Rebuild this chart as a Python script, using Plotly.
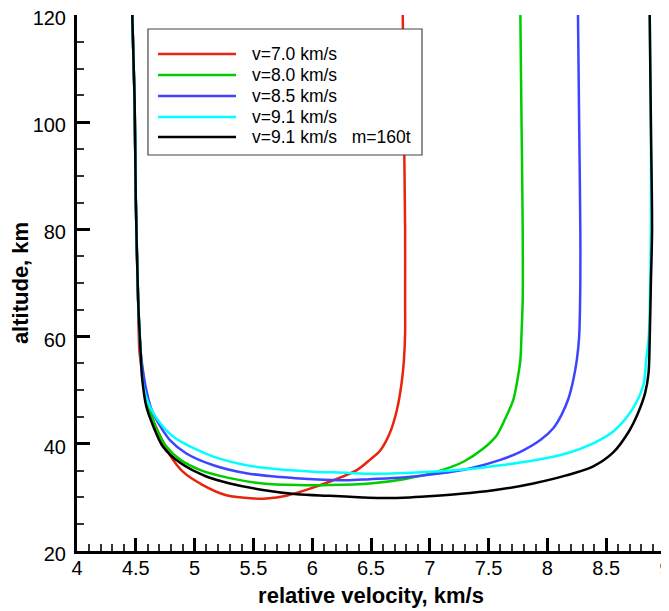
import plotly.graph_objects as go

# trajectories: relative velocity (km/s) vs altitude (km)
v_70 = [6.77, 6.78, 6.79, 6.79, 6.79, 6.78, 6.76, 6.72, 6.66, 6.58, 6.49, 6.38, 6.18,
        5.95, 5.78, 5.61, 5.50, 5.27, 5.07, 4.90, 4.79, 4.71, 4.635, 4.58, 4.55,
        4.53, 4.52, 4.50, 4.49, 4.47]
h_70 = [120, 100, 80, 66.8, 60.6, 55.6, 51.3, 46.3, 42.0, 38.8, 37.0, 35.1, 33.2,
        31.4, 30.3, 29.8, 29.8, 30.4, 32.3, 34.8, 37.9, 41.3, 45.1, 49.5, 53.8,
        57.5, 66.8, 85.5, 104, 120]

v_80 = [7.77, 7.78, 7.79, 7.79, 7.78, 7.77, 7.74, 7.71, 7.65, 7.57, 7.46, 7.29, 7.06,
        6.78, 6.49, 6.15, 5.87, 5.58, 5.30, 5.05, 4.88, 4.76, 4.68, 4.62, 4.58,
        4.555, 4.54, 4.52, 4.50, 4.49, 4.47]
h_80 = [120, 100, 80, 66.8, 60.6, 55.6, 51.3, 48.2, 45.1, 41.6, 39.2, 36.7, 34.8,
        33.4, 32.6, 32.3, 32.3, 32.6, 33.6, 35.1, 37.0, 39.5, 42.6, 46.3, 50.0,
        53.8, 57.5, 66.8, 85.5, 104, 120]

v_85 = [8.26, 8.27, 8.28, 8.28, 8.27, 8.25, 8.22, 8.18, 8.12, 8.05, 7.94, 7.77, 7.60,
        7.34, 7.06, 6.77, 6.49, 6.29, 6.01, 5.73, 5.44, 5.16, 4.93,
        4.79, 4.71, 4.635, 4.59, 4.56, 4.54, 4.52, 4.50, 4.49, 4.47]
h_85 = [120, 100, 80, 70, 60, 55.6, 51.9, 48.5, 45.4, 42.9, 40.7, 38.5, 37.0,
        35.4, 34.4, 33.7, 33.4, 33.2, 33.4, 33.8, 34.5, 36.0, 38.2,
        40.7, 43.2, 46.3, 50.0, 53.8, 57.5, 66.8, 85.5, 104, 120]

v_91 = [8.87, 8.88, 8.88, 8.87, 8.86, 8.84, 8.82, 8.76, 8.67, 8.56, 8.39, 8.16, 7.88,
        7.60, 7.34, 6.92, 6.49, 6.29, 6.01, 5.73, 5.44, 5.16,
        4.96, 4.82, 4.71, 4.62, 4.56, 4.54, 4.52, 4.50, 4.49, 4.47]
h_91 = [120, 100, 80, 65, 59.4, 55.6, 51.3, 47.9, 44.8, 42.3, 40.1, 38.2, 36.9,
        36.0, 35.3, 34.7, 34.4, 34.6, 34.8, 35.2, 36.0, 37.6,
        39.5, 41.3, 43.8, 46.9, 51.3, 57.5, 66.8, 85.5, 104, 120]

v_91m = [8.87, 8.88, 8.89, 8.88, 8.87, 8.86, 8.83, 8.77, 8.69, 8.56, 8.39, 8.16, 7.88,
         7.60, 7.34, 7.06, 6.83, 6.58, 6.43,
         6.15, 5.87, 5.58, 5.30, 5.10, 4.88, 4.73, 4.65, 4.59, 4.555, 4.54, 4.52,
         4.50, 4.49, 4.47]
h_91m = [120, 100, 80, 70, 59.4, 53.2, 49.4, 45.7, 42.2, 38.4, 35.8, 34.1, 32.6,
         31.5, 30.8, 30.3, 30.0, 29.9, 30.0,
         30.3, 30.6, 31.4, 32.6, 33.9, 36.4, 39.5, 43.2, 46.9, 52.0, 57.5, 66.8,
         85.5, 104, 120]

names = ["v=7.0 km/s", "v=8.0 km/s", "v=8.5 km/s", "v=9.1 km/s",
         "v=9.1 km/s\u00a0\u00a0 m=160t"]
colors = ["#e8240c", "#00cc00", "#3c46ff", "#00ffff", "#000000"]
series = [(v_70, h_70), (v_80, h_80), (v_85, h_85), (v_91, h_91), (v_91m, h_91m)]

fig = go.Figure()
for (v, h), name, col in zip(series, names, colors):
    fig.add_trace(go.Scatter(x=v, y=h, mode="lines", name=name,
                             line=dict(color=col, width=2.5, shape="spline", smoothing=0.8)))

tickFont = dict(family="Liberation Sans, Arial, sans-serif", size=20, color="black")
titleFont = dict(family="Liberation Sans, Arial, sans-serif", size=22, color="black", weight="bold")
axisCommon = dict(showline=True, linecolor="black", linewidth=3, mirror=False,
                  showgrid=False, zeroline=False, ticks="inside", ticklen=13,
                  tickwidth=3, tickcolor="black", tickfont=tickFont, title_font=titleFont,
                  automargin=False, ticklabeloverflow="allow")

# the page body has an 8px margin, so margins are shifted by 8px
fig.update_layout(
    width=669, height=611,
    margin=dict(l=69, r=12, t=7, b=68),
    paper_bgcolor="white", plot_bgcolor="white",
    showlegend=False,
    xaxis=dict(range=[4, 9], dtick=0.5, tick0=4, title_text="relative velocity, km/s",
               title_standoff=10, ticklabelstandoff=-3,
               minor=dict(dtick=0.1, ticks="inside", ticklen=7, tickwidth=1.5, tickcolor="#333"),
               **axisCommon),
    yaxis=dict(range=[20, 120], dtick=20, tick0=20, title_text="altitude, km",
               title_standoff=2, ticklabelstandoff=4, ticklabelshift=3,
               minor=dict(dtick=5, ticks="inside", ticklen=7, tickwidth=1.5, tickcolor="#333"),
               **axisCommon),
)

# hand-made legend box, like the original
fig.add_shape(type="rect", xref="paper", yref="paper", x0=0.1207, x1=0.5867,
              y0=0.7388, y1=0.9739, line=dict(color="#444", width=1.2),
              fillcolor="white", layer="above")
rowY = [0.9272, 0.8881, 0.8489, 0.8097, 0.7724]
for name, col, yy in zip(names, colors, rowY):
    fig.add_shape(type="line", xref="paper", yref="paper", x0=0.1378, x1=0.2704,
                  y0=yy, y1=yy, line=dict(color=col, width=2.5), layer="above")
    fig.add_annotation(xref="paper", yref="paper", x=0.2942, y=yy, text=name,
                       showarrow=False, xanchor="left", yanchor="middle",
                       font=dict(family="Liberation Sans, Arial, sans-serif", size=17.5, color="black"))

fig.write_html("out.html")
